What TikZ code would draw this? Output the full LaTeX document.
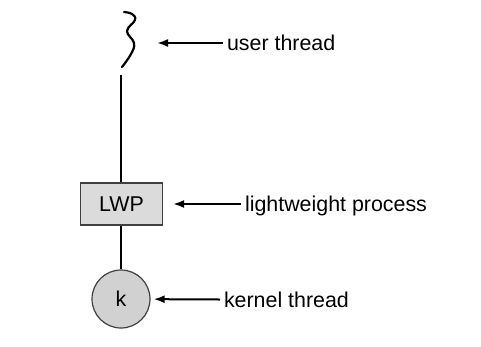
\documentclass[tikz,border=0pt]{standalone}
\usepackage{fontspec}
\setmainfont{Liberation Sans}
\usetikzlibrary{arrows.meta}
\begin{document}
\begin{tikzpicture}[x=1pt,y=-1pt,
  line width=2pt,
  lbl/.style={anchor=west,font=\fontsize{21.4}{24}\selectfont,text height=15.3pt,text depth=0pt,inner xsep=3pt,inner ysep=0pt},
  arr/.style={-{Latex[length=11pt,width=8pt]}},
  lwpbox/.style={draw=black!75,line width=1.2pt,fill=black!14,minimum width=82pt,minimum height=42pt,inner sep=0pt,font=\fontsize{21.4}{24}\selectfont},
  kcirc/.style={circle,draw=black!75,line width=1.2pt,fill=black!18,minimum size=58pt,inner sep=0pt,font=\fontsize{21.4}{24}\selectfont}]
\useasboundingbox (0,0) rectangle (481,346);
\fill[white] (0,0) rectangle (481,346);
% user thread (wavy line)
\coordinate (wt) at (124,12);
\coordinate (wb) at (122,68);
\coordinate (vt) at (121,75);
\draw[line width=2.2pt,line cap=round] plot[smooth,tension=0.7] coordinates {(124,12) (132,14) (135,20) (127,31) (134,43) (131,54) (122,67)};
% LWP box
\node[lwpbox] (lwp) at (121.5,204) {LWP};
% kernel thread circle
\node[kcirc] (k) at (121,299) {k};
% connectors
\draw (vt) -- (lwp.north -| vt);
\draw (lwp.south -| vt) -- (k.north -| vt);
% labels
\node[lbl] (ul) at (223,43) {user thread};
\coordinate (ut) at (157,43);
\draw[arr] (ul.west) -- (ut);
\node[lbl] (ll) at (241,204) {lightweight process};
\draw[arr,shorten >=10pt] (ll.west) -- (lwp);
\node[lbl] (kl) at (220,299.5) {kernel thread};
\draw[arr,shorten >=3pt] (kl.west) -- (k);
\end{tikzpicture}
\end{document}
